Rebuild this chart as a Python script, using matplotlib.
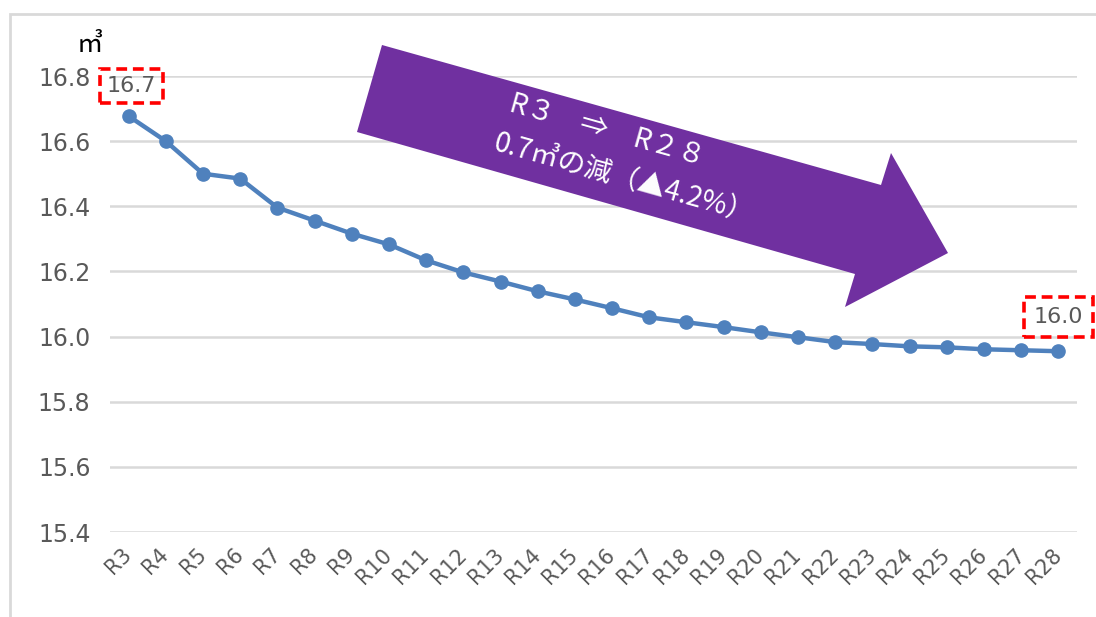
import matplotlib
matplotlib.use("Agg")
import matplotlib.pyplot as plt
from matplotlib.patches import Polygon, Rectangle

plt.rcParams['font.family'] = ['DejaVu Sans', 'Noto Sans CJK JP']

categories = ["R3", "R4", "R5", "R6", "R7", "R8", "R9", "R10", "R11", "R12", "R13", "R14", "R15",
              "R16", "R17", "R18", "R19", "R20", "R21", "R22", "R23", "R24", "R25", "R26", "R27", "R28"]
values = [16.677, 16.60, 16.50, 16.485, 16.396, 16.356, 16.316, 16.283, 16.234, 16.197, 16.169,
          16.139, 16.114, 16.087, 16.059, 16.044, 16.029, 16.013, 15.998, 15.983, 15.977, 15.970,
          15.967, 15.961, 15.958, 15.955]
yticks = [15.4, 15.6, 15.8, 16.0, 16.2, 16.4, 16.6, 16.8]
first_label = "16.7"
last_label = "16.0"
unit = "㎥"
arrow_line1 = "R３　⇒　R２８"
arrow_line2 = "0.7㎥の減（▲4.2%）"

W, H = 1096, 617
fig = plt.figure(figsize=(W / 100, H / 100), dpi=100)
cjk = ['Noto Sans CJK JP', 'DejaVu Sans']

def fx(px):
    return px / W

def fy(py):
    return 1 - py / H

# chart border
fig.patches.append(Rectangle((fx(10), fy(700)), fx(1200), fy(14) - fy(700), transform=fig.transFigure,
                             fill=False, edgecolor="#d9d9d9", lw=2, zorder=0))

ax = fig.add_axes([fx(110), fy(532), fx(1077) - fx(110), fy(76) - fy(532)])
x = list(range(len(categories)))
ax.plot(x, values, color="#4F81BD", lw=3.2, marker="o", markersize=9.5, zorder=3, clip_on=False)
ax.set_xlim(-0.5, len(categories) - 0.5)
ax.set_ylim(15.4, 16.8)
ax.set_yticks(yticks)
ax.set_yticklabels([f"{v:.1f}" for v in yticks])
ax.set_xticks(x)
ax.set_xticklabels(categories, rotation=45, ha="right", va="center", rotation_mode="anchor")
ax.tick_params(axis="y", length=0, pad=14, labelsize=17, labelcolor="#595959")
ax.tick_params(axis="x", length=0, pad=14, labelsize=15, labelcolor="#595959")
ax.grid(axis="y", color="#d9d9d9", lw=1.8)
ax.set_axisbelow(True)
for s in ax.spines.values():
    s.set_visible(False)

box = dict(boxstyle="square,pad=0.3", fc="none", ec="#ff0000", lw=2.6, ls=(0, (3, 1.6)))
box2 = dict(boxstyle="square,pad=0.45", fc="none", ec="#ff0000", lw=2.6, ls=(0, (3, 1.6)))
ax.annotate(first_label, (x[0], values[0]), xytext=(3, 30), textcoords="offset pixels",
            ha="center", va="center", fontsize=16, color="#595959", bbox=box, annotation_clip=False)
ax.annotate(last_label, (x[-1], values[-1]), xytext=(0, 34), textcoords="offset pixels",
            ha="center", va="center", fontsize=16, color="#595959", bbox=box2, annotation_clip=False)

fig.text(fx(90), fy(45), unit, fontsize=19, color="black", ha="center", va="center", family=cjk)

# big purple arrow
pts = [(382, 45), (881, 185), (891, 153), (948, 253), (845, 307), (855, 274), (357, 132)]
fig.patches.append(Polygon([(fx(a), fy(b)) for a, b in pts], closed=True, transform=fig.transFigure,
                           fc="#7030A0", ec="none", zorder=5))
fig.text(fx(607), fy(130), arrow_line1, fontsize=20, color="white", rotation=-15.7,
         ha="center", va="center", rotation_mode="anchor", zorder=6, family=cjk)
fig.text(fx(624), fy(178), arrow_line2, fontsize=20, color="white", rotation=-15.7,
         ha="center", va="center", rotation_mode="anchor", zorder=6, family=cjk)

fig.savefig("out.png", dpi=100)
